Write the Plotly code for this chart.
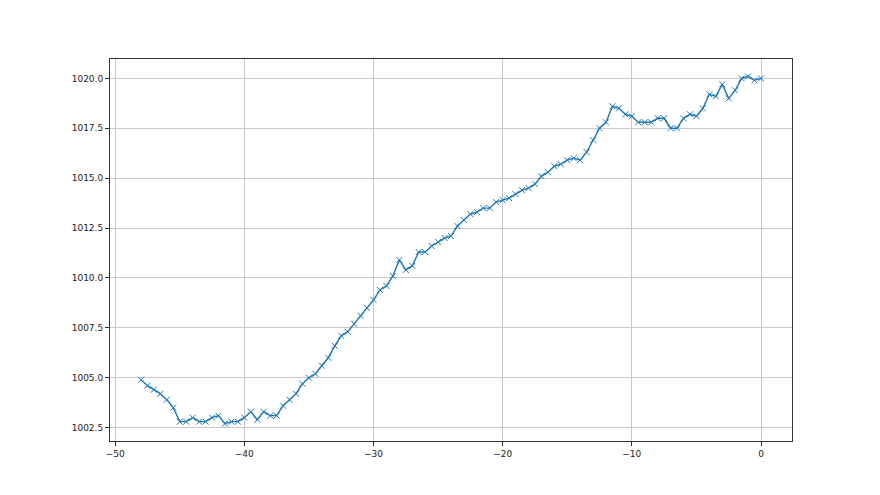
import numpy as np
import plotly.graph_objects as go

hours = [-48 + 0.5 * i for i in range(97)]
pressure = [
    1004.9, 1004.6, 1004.4, 1004.2, 1003.9, 1003.5, 1002.8, 1002.8, 1003.0, 1002.8,
    1002.8, 1003.0, 1003.1, 1002.7, 1002.8, 1002.8, 1003.0, 1003.3, 1002.9, 1003.3,
    1003.1, 1003.1, 1003.6, 1003.9, 1004.2, 1004.7, 1005.0, 1005.2, 1005.6, 1006.0,
    1006.6, 1007.1, 1007.3, 1007.7, 1008.1, 1008.5, 1008.9, 1009.4, 1009.6, 1010.1,
    1010.9, 1010.4, 1010.6, 1011.3, 1011.3, 1011.6, 1011.8, 1012.0, 1012.1, 1012.6,
    1012.9, 1013.2, 1013.3, 1013.5, 1013.5, 1013.8, 1013.9, 1014.0, 1014.2, 1014.4,
    1014.5, 1014.7, 1015.1, 1015.3, 1015.6, 1015.7, 1015.9, 1016.0, 1015.9, 1016.3,
    1016.9, 1017.5, 1017.8, 1018.6, 1018.5, 1018.2, 1018.1, 1017.8, 1017.8, 1017.8,
    1018.0, 1018.0, 1017.5, 1017.5, 1018.0, 1018.2, 1018.1, 1018.5, 1019.2, 1019.1,
    1019.7, 1019.0, 1019.4, 1020.0, 1020.1, 1019.9, 1020.0,
]
x_ticks = [-50, -40, -30, -20, -10, 0]
y_ticks = [1002.5, 1005.0, 1007.5, 1010.0, 1012.5, 1015.0, 1017.5, 1020.0]

xmin, xmax = min(hours), max(hours)
ymin, ymax = min(pressure), max(pressure)
xpad = 0.05 * (xmax - xmin)
ypad = 0.05 * (ymax - ymin)

fig = go.Figure(go.Scatter(
    x=hours, y=pressure, mode="lines+markers",
    line=dict(color="#1f77b4", width=1.4),
    marker=dict(symbol="x-thin", size=6, line=dict(color="#1f77b4", width=1)),
))

axis_common = dict(
    showline=True, linecolor="#333333", linewidth=1, mirror=True,
    ticks="outside", ticklen=4, tickcolor="#333333",
    showgrid=True, gridcolor="#c8c8c8", gridwidth=1, zeroline=False,
    tickfont=dict(family="DejaVu Sans", size=9, color="#222222"),
)
fig.update_xaxes(range=[xmin - xpad, xmax + xpad], tickvals=x_ticks, **axis_common)
fig.update_yaxes(range=[ymin - ypad, ymax + ypad], tickvals=y_ticks, tickformat=".1f", **axis_common)

fig.update_layout(
    width=870, height=485,
    margin=dict(l=102, r=86, t=51, b=52),
    paper_bgcolor="white", plot_bgcolor="white",
    showlegend=False,
)
fig.write_html("out.html")
